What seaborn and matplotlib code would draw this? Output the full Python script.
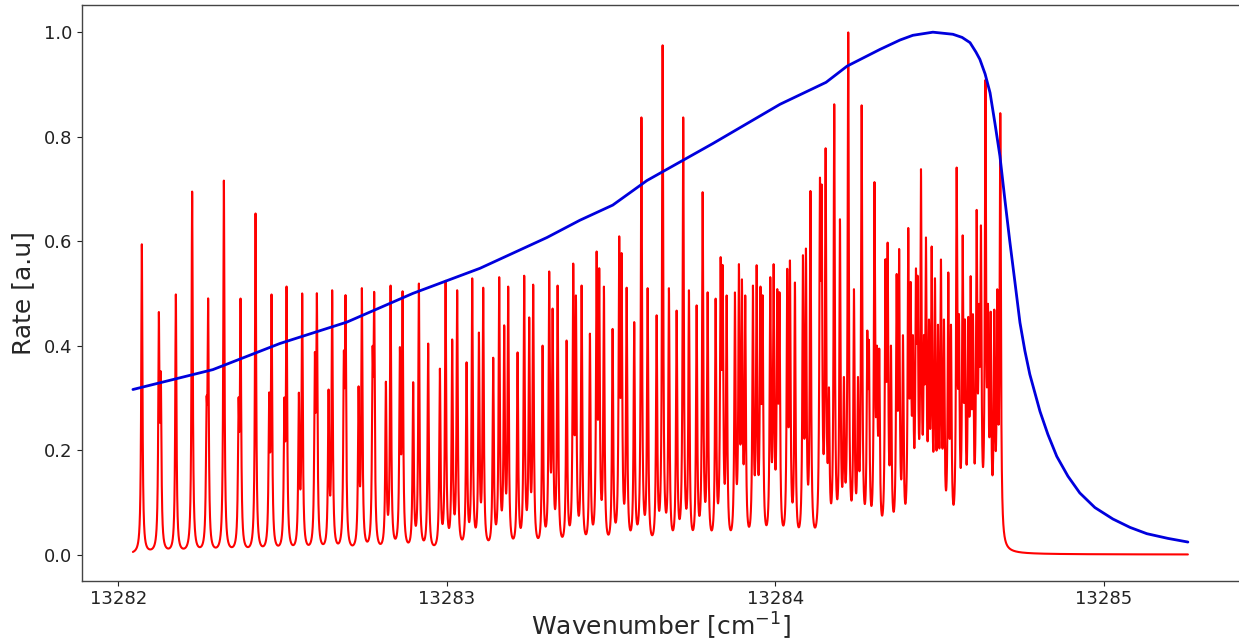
import numpy as np
import pandas as pd
import matplotlib
matplotlib.use("Agg")
import matplotlib.pyplot as plt
import seaborn as sns

# Envelope (blue): wavenumber [cm^-1] and normalised rate
envelope_wn = [13282.045, 13282.288, 13282.492, 13282.696, 13282.897, 13283.101,
               13283.305, 13283.405, 13283.505, 13283.609, 13283.810, 13284.014,
               13284.154, 13284.218, 13284.318, 13284.379, 13284.418, 13284.479,
               13284.540, 13284.568, 13284.592, 13284.610, 13284.622, 13284.638,
               13284.653, 13284.668, 13284.683, 13284.698, 13284.713, 13284.729,
               13284.744, 13284.759, 13284.774, 13284.805, 13284.829, 13284.856,
               13284.890, 13284.926, 13284.972, 13285.027, 13285.079, 13285.130,
               13285.194, 13285.255]
envelope_rate = [0.316, 0.354, 0.404, 0.445, 0.500, 0.548,
                 0.607, 0.640, 0.669, 0.716, 0.787, 0.862,
                 0.904, 0.935, 0.967, 0.985, 0.994, 1.000,
                 0.996, 0.990, 0.980, 0.962, 0.948, 0.920,
                 0.884, 0.825, 0.763, 0.680, 0.600, 0.520,
                 0.444, 0.390, 0.345, 0.274, 0.230, 0.188,
                 0.150, 0.118, 0.090, 0.068, 0.052, 0.040,
                 0.031, 0.024]

# Resolved rotational lines (red): centre offsets from 13282 cm^-1 and peak rate
line_offset = [0.0721, 0.1239, 0.1299, 0.1756, 0.2252, 0.2690, 0.2739, 0.3217, 0.3664, 0.3725,
               0.4181, 0.4595, 0.4668, 0.5058, 0.5125, 0.5499, 0.5600, 0.5986, 0.6047, 0.6403,
               0.6512, 0.6868, 0.6920, 0.7316, 0.7416, 0.7742, 0.7791, 0.8147, 0.8290, 0.8573,
               0.8655, 0.8977, 0.9151, 0.9434, 0.9790, 0.9963, 1.0164, 1.0316, 1.0602, 1.0773,
               1.0977, 1.1108, 1.1412, 1.1595, 1.1747, 1.1868, 1.2154, 1.2355, 1.2508, 1.2629,
               1.2915, 1.3116, 1.3220, 1.3372, 1.3646, 1.3847, 1.3929, 1.4102, 1.4355, 1.4559,
               1.4638, 1.4781, 1.5045, 1.5246, 1.5319, 1.5472, 1.5703, 1.5922, 1.6111, 1.6385,
               1.6567, 1.6759, 1.6993, 1.7194, 1.7368, 1.7602, 1.7785, 1.7937, 1.8180, 1.8332,
               1.8393, 1.8515, 1.8767, 1.8889, 1.8980, 1.9081, 1.9315, 1.9428, 1.9543, 1.9610,
               1.9842, 1.9945, 2.0055, 2.0122, 2.0359, 2.0441, 2.0593, 2.0837, 2.0928, 2.1065,
               2.1354, 2.1406, 2.1527, 2.1789, 2.1963, 2.2215, 2.2389, 2.2623, 2.2794, 2.2845,
               2.3013, 2.3158, 2.3347, 2.3414, 2.3688, 2.3764, 2.4041, 2.4114, 2.4275, 2.4327,
               2.4428, 2.4580, 2.4753, 2.4854, 2.5036, 2.5259, 2.5514, 2.5697, 2.5867, 2.5940,
               2.6122, 2.6253, 2.6390, 2.6549, 2.6659, 2.6750, 2.6841]
line_peak = [0.594, 0.464, 0.350, 0.498, 0.695, 0.300, 0.490, 0.716, 0.300, 0.490,
             0.653, 0.310, 0.498, 0.300, 0.513, 0.310, 0.500, 0.387, 0.500, 0.316,
             0.506, 0.389, 0.496, 0.322, 0.510, 0.397, 0.502, 0.331, 0.515, 0.397,
             0.504, 0.330, 0.519, 0.404, 0.356, 0.524, 0.412, 0.506, 0.368, 0.529,
             0.425, 0.511, 0.377, 0.531, 0.439, 0.513, 0.387, 0.534, 0.454, 0.517,
             0.400, 0.542, 0.471, 0.515, 0.410, 0.557, 0.496, 0.515, 0.423, 0.580,
             0.548, 0.513, 0.432, 0.609, 0.577, 0.511, 0.445, 0.837, 0.510, 0.458,
             0.975, 0.510, 0.467, 0.837, 0.506, 0.477, 0.694, 0.502, 0.490, 0.569,
             0.554, 0.496, 0.502, 0.556, 0.527, 0.496, 0.515, 0.554, 0.513, 0.496,
             0.531, 0.556, 0.508, 0.502, 0.547, 0.563, 0.521, 0.573, 0.586, 0.696,
             0.720, 0.707, 0.778, 0.862, 0.642, 1.000, 0.508, 0.860, 0.428, 0.410,
             0.713, 0.394, 0.565, 0.597, 0.537, 0.585, 0.625, 0.522, 0.547, 0.533,
             0.738, 0.607, 0.590, 0.529, 0.565, 0.540, 0.741, 0.611, 0.455, 0.533,
             0.660, 0.630, 0.909, 0.465, 0.469, 0.508, 0.845]

# Weaker lines of the other branches, which crowd towards the band head
weak_offset = [2.1628, 2.2084, 2.2511, 2.3089, 2.3515, 2.3880, 2.4184, 2.4519, 2.4671,
               2.4945, 2.5127, 2.5341, 2.5584, 2.5767, 2.6010, 2.6193, 2.6467]
weak_peak = [0.32, 0.34, 0.34, 0.40, 0.40, 0.42, 0.42, 0.42, 0.45,
             0.44, 0.45, 0.44, 0.46, 0.45, 0.46, 0.48, 0.48]

WN0 = 13282.0
HWHM = 0.0022          # Lorentzian half width of each line [cm^-1]

centres = WN0 + np.asarray(line_offset + weak_offset)
peaks = np.asarray(line_peak + weak_peak)
order = np.argsort(centres)
centres, peaks = centres[order], peaks[order]


def lorentz(dx):
    return 1.0 / (1.0 + (dx / HWHM) ** 2)


# Line amplitudes chosen so that the summed profile reaches each listed peak value
M = lorentz(centres[:, None] - centres[None, :])
amps = np.clip(np.linalg.solve(M, peaks), 0.0, None)

wn = np.linspace(envelope_wn[0], envelope_wn[-1], 32000)
rate = (amps[None, :] * lorentz(wn[:, None] - centres[None, :])).sum(axis=1)

spec = pd.DataFrame({"wn": wn, "rate": rate})
env = pd.DataFrame({"wn": envelope_wn, "rate": envelope_rate})

sns.set_style("ticks")
plt.rcParams["font.family"] = ["DejaVu Sans"]

fig = plt.figure(figsize=(12.39, 6.43), dpi=100)
ax = fig.add_axes([0.0659, 0.0969, 0.9353, 0.8953])

sns.lineplot(data=spec, x="wn", y="rate", ax=ax, color="#ff0000", lw=1.5,
             estimator=None, sort=False)
sns.lineplot(data=env, x="wn", y="rate", ax=ax, color="#0000dd", lw=2.0,
             estimator=None, sort=False)

ax.set_xlim(13281.889, 13285.415)
ax.set_ylim(-0.05, 1.052)
ax.set_xticks([13282, 13283, 13284, 13285])
ax.set_xticklabels(["13282", "13283", "13284", "13285"])
ax.set_yticks([0.0, 0.2, 0.4, 0.6, 0.8, 1.0])
ax.set_yticklabels(["0.0", "0.2", "0.4", "0.6", "0.8", "1.0"])
ax.tick_params(labelsize=13, length=3.5, width=0.8, colors="#222222")
for s in ax.spines.values():
    s.set_color("#444444")
    s.set_linewidth(1.0)

ax.set_xlabel(r"Wavenumber [cm$^{-1}$]", fontsize=18, labelpad=2)
ax.set_ylabel("Rate [a.u]", fontsize=18, labelpad=6)

fig.savefig("out.png", dpi=100)
